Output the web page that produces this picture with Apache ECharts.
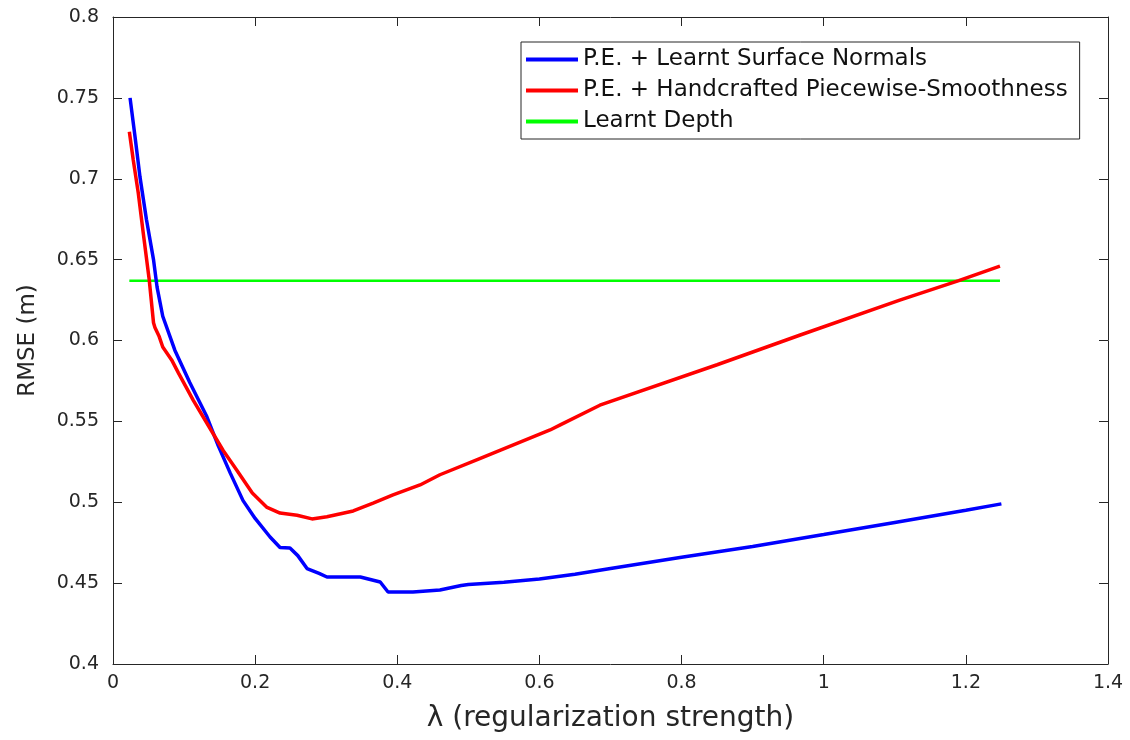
<!DOCTYPE html>
<html>
<head>
<meta charset="utf-8">
<script src="https://cdn.jsdelivr.net/npm/echarts@6/dist/echarts.min.js"></script>
<style>html,body{margin:0;padding:0;background:#fff;}#c{width:1130px;height:740px;}</style>
</head>
<body>
<div id="c"></div>
<script>
const seriesNames = ['P.E. + Learnt Surface Normals', 'P.E. + Handcrafted Piecewise-Smoothness', 'Learnt Depth'];

const learntNormals = [
  [0.024, 0.750], [0.031, 0.726], [0.038, 0.701], [0.047, 0.675], [0.057, 0.650],
  [0.062, 0.633], [0.070, 0.615], [0.087, 0.594], [0.108, 0.574], [0.132, 0.553],
  [0.148, 0.535], [0.165, 0.518], [0.183, 0.501], [0.200, 0.490], [0.221, 0.4785],
  [0.235, 0.472], [0.249, 0.4717], [0.260, 0.467], [0.273, 0.459], [0.290, 0.456],
  [0.301, 0.4538], [0.348, 0.4538], [0.376, 0.4507], [0.387, 0.4445], [0.422, 0.4445],
  [0.460, 0.4458], [0.490, 0.4485], [0.500, 0.4492], [0.550, 0.4505], [0.600, 0.4525],
  [0.650, 0.4555], [0.700, 0.459], [0.800, 0.466], [0.900, 0.4726], [1.000, 0.480],
  [1.100, 0.4875], [1.200, 0.495], [1.250, 0.499]
];

const handcrafted = [
  [0.023, 0.729], [0.0285, 0.7116], [0.0356, 0.691], [0.0426, 0.6663], [0.051, 0.6374],
  [0.057, 0.611], [0.059, 0.608], [0.065, 0.6024], [0.070, 0.596], [0.0825, 0.588],
  [0.092, 0.580], [0.113, 0.563], [0.132, 0.549], [0.155, 0.532], [0.174, 0.520],
  [0.196, 0.5057], [0.216, 0.497], [0.235, 0.4933], [0.259, 0.492], [0.280, 0.4897],
  [0.301, 0.491], [0.338, 0.4946], [0.366, 0.4995], [0.394, 0.5045], [0.432, 0.5107],
  [0.460, 0.517], [0.516, 0.527], [0.615, 0.5447], [0.630, 0.548], [0.685, 0.560],
  [0.850, 0.585], [0.967, 0.6034], [1.107, 0.625], [1.190, 0.637], [1.248, 0.646]
];

const learntDepth = [[0.023, 0.637], [1.248, 0.637]];

const xTicks = { min: 0, max: 1.4, interval: 0.2 };
const yTicks = { min: 0.4, max: 0.8, interval: 0.05 };

const axisColor = '#262626';
const font = 'DejaVu Sans, Liberation Sans, sans-serif';

const chart = echarts.init(document.getElementById('c'), null, { renderer: 'canvas' });

function mkX(pos, show) {
  return {
    type: 'value', position: pos, min: xTicks.min, max: xTicks.max, interval: xTicks.interval,
    axisLine: { show: true, onZero: false, lineStyle: { color: axisColor, width: 1 } },
    axisTick: { show: true, inside: true, length: 9, lineStyle: { color: axisColor } },
    axisLabel: { show: show, color: axisColor, fontSize: 19, fontFamily: font, margin: 10 },
    splitLine: { show: false }
  };
}
function mkY(pos, show) {
  return {
    type: 'value', position: pos, min: yTicks.min, max: yTicks.max, interval: yTicks.interval,
    axisLine: { show: true, onZero: false, lineStyle: { color: axisColor, width: 1 } },
    axisTick: { show: true, inside: true, length: 9, lineStyle: { color: axisColor } },
    axisLabel: { show: show, color: axisColor, fontSize: 19, fontFamily: font, margin: 14 },
    splitLine: { show: false }
  };
}

const x0 = mkX('bottom', true);
x0.name = 'λ (regularization strength)';
x0.nameLocation = 'middle';
x0.nameGap = 41;
x0.nameTextStyle = { color: axisColor, fontSize: 28, fontFamily: font };
const y0 = mkY('left', true);
y0.name = 'RMSE (m)';
y0.nameLocation = 'middle';
y0.nameGap = 73;
y0.nameTextStyle = { color: axisColor, fontSize: 23, fontFamily: font };

chart.setOption({
  animation: false,
  backgroundColor: '#ffffff',
  grid: { left: 113, right: 22, top: 17, bottom: 76, containLabel: false },
  xAxis: [x0, mkX('top', false)],
  yAxis: [y0, mkY('right', false)],
  legend: {
    orient: 'vertical', left: 521, top: 42,
    backgroundColor: '#ffffff', borderColor: axisColor, borderWidth: 1,
    padding: [4, 12, 4, 5], itemGap: 4, itemWidth: 52, itemHeight: 4,
    textStyle: { color: '#111', fontSize: 23, fontFamily: font, lineHeight: 27 },
    data: seriesNames.map(n => ({ name: n, icon: 'rect' }))
  },
  series: [
    { name: seriesNames[0], type: 'line', data: learntNormals, showSymbol: false, symbol: 'none',
      lineStyle: { color: '#0000ff', width: 3.5 }, itemStyle: { color: '#0000ff' }, z: 3 },
    { name: seriesNames[1], type: 'line', data: handcrafted, showSymbol: false, symbol: 'none',
      lineStyle: { color: '#ff0000', width: 3.5 }, itemStyle: { color: '#ff0000' }, z: 4 },
    { name: seriesNames[2], type: 'line', data: learntDepth, showSymbol: false, symbol: 'none',
      lineStyle: { color: '#00ff00', width: 2.5 }, itemStyle: { color: '#00ff00' }, z: 2 }
  ]
});
</script>
</body>
</html>
